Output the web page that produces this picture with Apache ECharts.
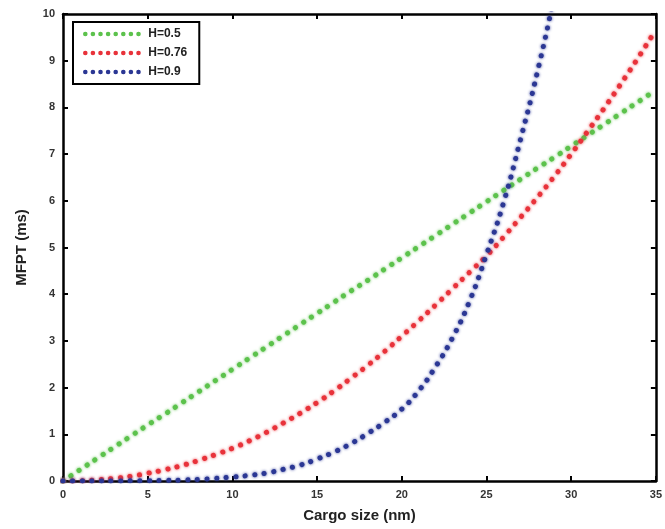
<!DOCTYPE html>
<html>
<head>
<meta charset="utf-8">
<script src="https://cdn.jsdelivr.net/npm/echarts@6/dist/echarts.min.js"></script>
<style>html,body{margin:0;padding:0;background:#fff}#c{width:665px;height:529px}</style>
</head>
<body>
<div id="c"></div>
<script>
const cargoSize = [0,1,2,3,4,5,6,7,8,9,10,11,12,13,14,15,16,17,18,19,20,21,22,23,24,25,26,27,28,29,30,31,32,33,34,35];
const mfptH050 = [0,0.24,0.48,0.72,0.96,1.2,1.43,1.67,1.91,2.15,2.39,2.63,2.87,3.11,3.35,3.59,3.83,4.07,4.3,4.54,4.78,5.02,5.26,5.5,5.74,5.98,6.22,6.46,6.7,6.93,7.17,7.41,7.65,7.89,8.13,8.37];
const mfptH076 = [0,0.006,0.024,0.057,0.1,0.165,0.24,0.33,0.44,0.565,0.7,0.86,1.04,1.24,1.45,1.68,1.93,2.2,2.48,2.78,3.1,3.43,3.77,4.12,4.47,4.82,5.22,5.64,6.07,6.52,7.0,7.5,8.01,8.54,9.09,9.66];
const mfptH090 = [0,0,0.001,0.002,0.004,0.007,0.012,0.02,0.035,0.055,0.085,0.12,0.17,0.25,0.34,0.47,0.62,0.8,1.02,1.26,1.54,1.93,2.45,3.07,3.85,4.85,5.95,7.3,8.75,10.4,12.3,null,null,null,null,null];
const seriesNames = ['H=0.5','H=0.76','H=0.9'];
const seriesColors = ['#5cc24c','#e8323a','#2b3794'];
const xTicks = [0,5,10,15,20,25,30,35];
const yTicks = [0,1,2,3,4,5,6,7,8,9,10];

const chart = echarts.init(document.getElementById('c'));
const pair = arr => cargoSize.map((x,i)=>[x,arr[i]]).filter(p=>p[1]!==null);
const allData = [mfptH050, mfptH076, mfptH090];
const axisLineStyle = {color:'#000', width:2.5};
const labelFont = {color:'#333', fontSize:11, fontWeight:'bold', fontFamily:'Liberation Sans, Arial, sans-serif'};
chart.setOption({
  animation:false,
  backgroundColor:'#fff',
  grid:{left:63, right:6, top:14, bottom:48, containLabel:false},
  legend:{
    orient:'vertical', left:73, top:22,
    data:seriesNames.map(n=>({name:n})),
    itemWidth:58, itemHeight:10, itemGap:7,
    padding:[6,12,6,10],
    borderColor:'#000', borderWidth:2, backgroundColor:'#fff',
    itemStyle:{opacity:0},
    lineStyle:{width:4.5, cap:'round', type:[0.1,7.5]},
    textStyle:{color:'#222', fontSize:12, fontWeight:'bold', fontFamily:'Liberation Sans, Arial, sans-serif', padding:[0,0,0,0]}
  },
  xAxis:[{
    type:'value', min:0, max:35, interval:5, position:'bottom',
    name:'Cargo size (nm)', nameLocation:'middle', nameGap:27,
    nameTextStyle:{color:'#222', fontSize:15, fontWeight:'bold', fontFamily:'Liberation Sans, Arial, sans-serif'},
    axisLine:{show:true, onZero:false, lineStyle:axisLineStyle},
    axisTick:{show:true, inside:true, length:5, lineStyle:{color:'#000', width:2}},
    axisLabel:Object.assign({margin:8, formatter:v=>xTicks.includes(v)?String(v):''}, labelFont),
    splitLine:{show:false}
  },{
    type:'value', min:0, max:35, interval:5, position:'top',
    axisLine:{show:true, onZero:false, lineStyle:axisLineStyle},
    axisTick:{show:true, inside:true, length:5, lineStyle:{color:'#000', width:2}},
    axisLabel:{show:false}, splitLine:{show:false}
  }],
  yAxis:[{
    type:'value', min:0, max:10, interval:1, position:'left',
    name:'MFPT (ms)', nameLocation:'middle', nameGap:34, nameRotate:90,
    nameTextStyle:{color:'#222', fontSize:15, fontWeight:'bold', fontFamily:'Liberation Sans, Arial, sans-serif'},
    axisLine:{show:true, onZero:false, lineStyle:axisLineStyle},
    axisTick:{show:true, inside:true, length:5, lineStyle:{color:'#000', width:2}},
    axisLabel:Object.assign({margin:8, formatter:v=>yTicks.includes(v)?String(v):''}, labelFont),
    splitLine:{show:false}
  },{
    type:'value', min:0, max:10, interval:1, position:'right',
    axisLine:{show:true, onZero:false, lineStyle:axisLineStyle},
    axisTick:{show:true, inside:true, length:5, lineStyle:{color:'#000', width:2}},
    axisLabel:{show:false}, splitLine:{show:false}
  }],
  series: seriesNames.map((n,i)=>({
    name:n, type:'line', xAxisIndex:0, yAxisIndex:0,
    data:pair(allData[i]), smooth:true, symbol:'none', showSymbol:false, clip:true,
    itemStyle:{color:seriesColors[i]},
    lineStyle:{color:seriesColors[i], width:5, type:[0.1,9.5], cap:'round',
      shadowColor:seriesColors[i], shadowBlur:3}
  }))
});
</script>
</body>
</html>
